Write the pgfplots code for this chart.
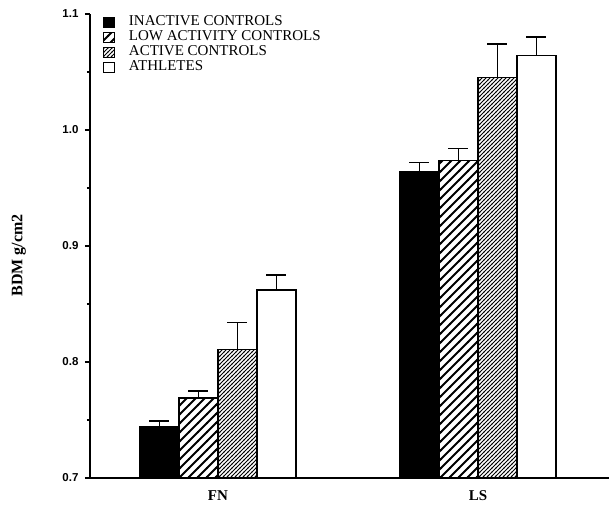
\documentclass[border=0pt]{standalone}
\usepackage{fontspec}
\setmainfont{Liberation Serif}
\newfontfamily\sansb{Liberation Sans}
\usepackage{pgfplots}
\pgfplotsset{compat=1.18}
\usetikzlibrary{patterns}
\pgfdeclarepatternformonly{sparse hatch}{\pgfqpoint{-1pt}{-1pt}}{\pgfqpoint{10pt}{10pt}}{\pgfqpoint{9pt}{9pt}}{%
  \pgfsetlinewidth{1.9pt}%
  \pgfpathmoveto{\pgfqpoint{-0.5pt}{-0.5pt}}%
  \pgfpathlineto{\pgfqpoint{9.5pt}{9.5pt}}%
  \pgfusepath{stroke}}
\pgfdeclarepatternformonly{dense hatch}{\pgfqpoint{-1pt}{-1pt}}{\pgfqpoint{5pt}{5pt}}{\pgfqpoint{4pt}{4pt}}{%
  \pgfsetlinewidth{1.0pt}%
  \pgfpathmoveto{\pgfqpoint{-0.5pt}{-0.5pt}}%
  \pgfpathlineto{\pgfqpoint{4.5pt}{4.5pt}}%
  \pgfusepath{stroke}}
\begin{document}
\begin{tikzpicture}
\path[use as bounding box] (-90pt,-26pt) rectangle (519pt,478pt);
\begin{axis}[
  at={(0,0)}, anchor=south west, scale only axis,
  width=519pt, height=464pt,
  xmin=-0.492, xmax=1.504, ymin=0.7, ymax=1.1,
  axis x line*=bottom, axis y line*=left,
  axis line style={line width=1.6pt},
  ybar=0pt, bar width=0.15,
  xtick={0,1}, xticklabels={FN,LS},
  x tick label style={font=\bfseries\fontsize{15}{15}\selectfont, yshift=-4pt},
  major x tick style={draw=none},
  ytick={0.7,0.8,0.9,1.0,1.1}, minor ytick={0.75,0.85,0.95,1.05},
  tick align=outside, major tick length=5pt, minor tick length=3pt,
  tick style={line width=1.2pt, black},
  yticklabel style={font=\sansb\bfseries\fontsize{11.5}{11.5}\selectfont, xshift=-3pt,
    /pgf/number format/fixed, /pgf/number format/precision=1,
    /pgf/number format/fixed zerofill, /pgf/number format/assume math mode=true},
  ylabel={BDM g/cm2},
  ylabel style={font=\bfseries\fontsize{16}{16}\selectfont,
    at={(axis description cs:-0.137,0.48)}, anchor=center},
  legend style={at={(axis description cs:0.025,0.999)}, anchor=north west, draw=none, fill=none,
    font=\fontsize{15}{15}\selectfont, row sep=0pt, inner sep=0pt,
    nodes={inner sep=1pt, text height=10pt, text depth=3pt},
    /tikz/every odd column/.append style={column sep=13pt},
    cells={anchor=west}},
  legend image code/.code={\draw[#1, line width=1.3pt] (0pt,-5pt) rectangle (10.5pt,5pt);},
  error bars/y dir=plus, error bars/y explicit,
  error bars/error bar style={line width=1.5pt, black},
  error bars/error mark options={rotate=90, mark size=10pt, line width=1.5pt, black},
]
\addplot[draw=black, line width=1.3pt, fill=black] coordinates {(0,0.744) +- (0,0.005) (1,0.964) +- (0,0.008)};
\addlegendentry{INACTIVE CONTROLS}
\addplot[draw=black, line width=1.3pt, pattern=sparse hatch, pattern color=black] coordinates {(0,0.769) +- (0,0.006) (1,0.974) +- (0,0.010)};
\addlegendentry{LOW ACTIVITY CONTROLS}
\addplot[draw=black, line width=1.3pt, pattern=dense hatch, pattern color=black] coordinates {(0,0.811) +- (0,0.023) (1,1.045) +- (0,0.029)};
\addlegendentry{ACTIVE CONTROLS}
\addplot[draw=black, line width=1.3pt, fill=white] coordinates {(0,0.862) +- (0,0.013) (1,1.064) +- (0,0.016)};
\addlegendentry{ATHLETES}
\end{axis}
\end{tikzpicture}
\end{document}
